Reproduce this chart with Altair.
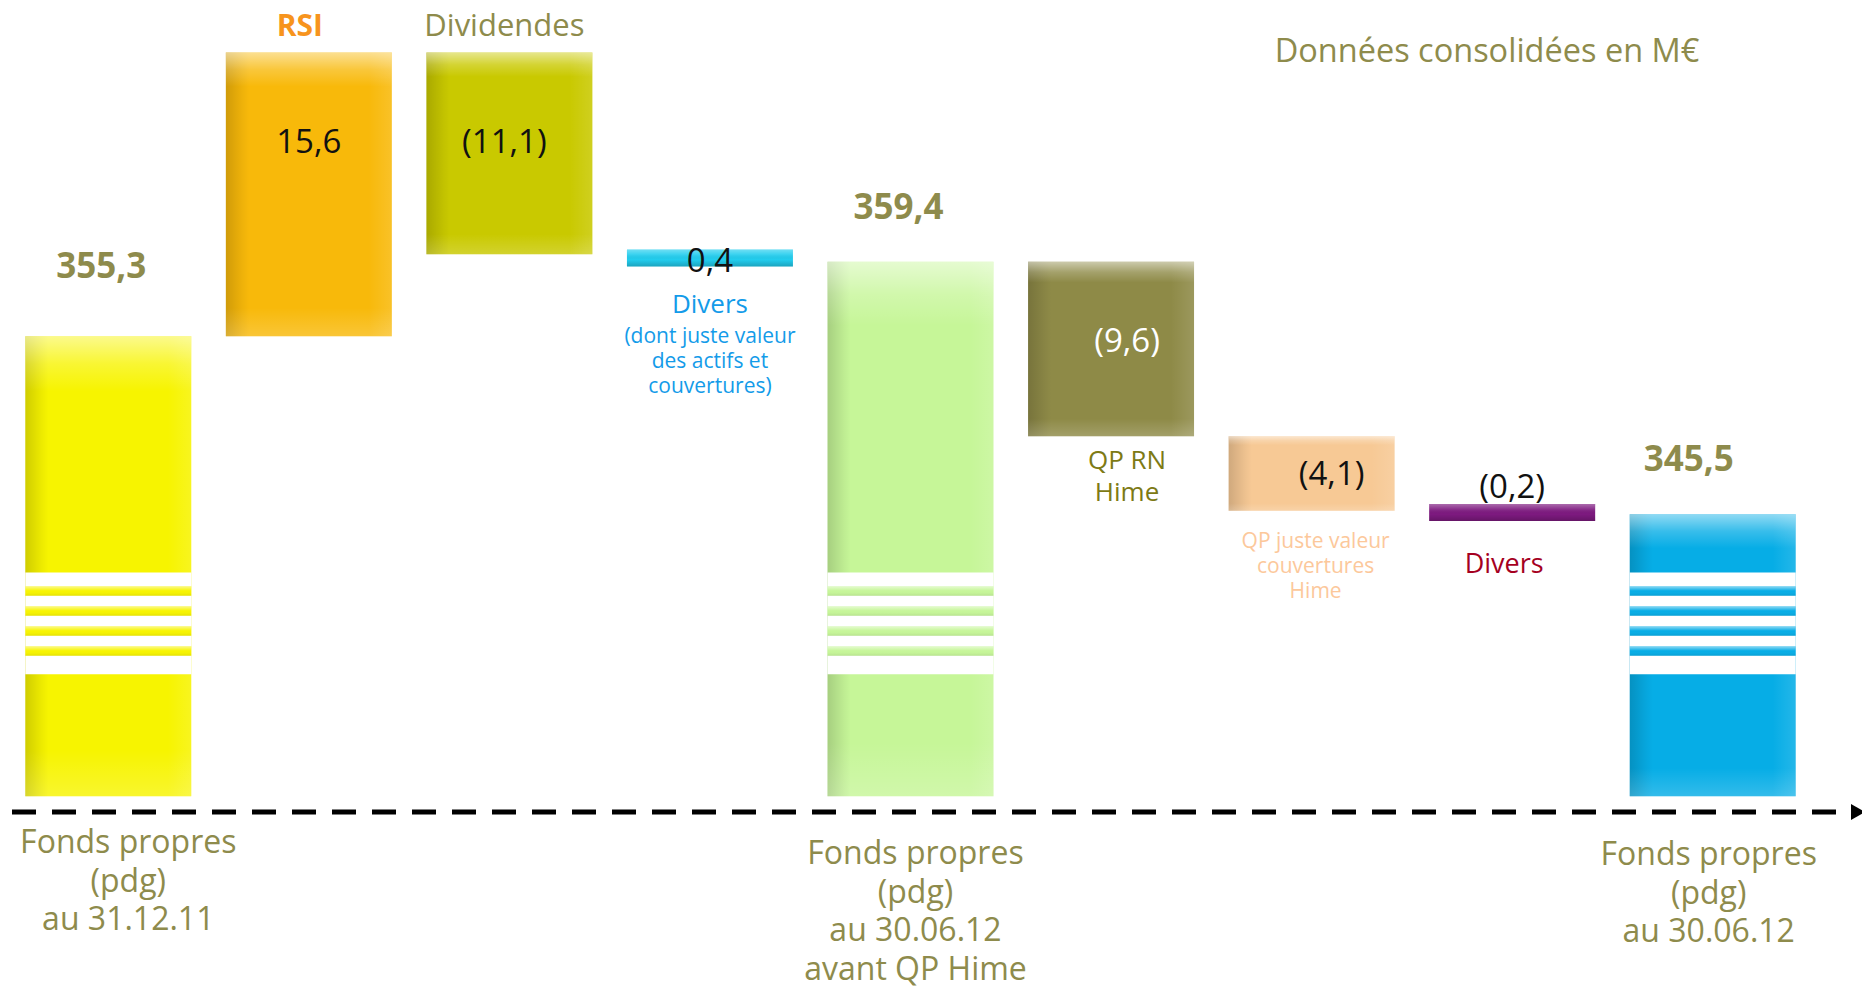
import altair as alt
import pandas as pd

# ---------------- data ----------------
categories = ["fp_2011", "rsi", "dividendes", "divers_1", "fp_avant",
              "qp_rn", "qp_jv", "divers_2", "fp_2012"]
kinds = ["total", "delta", "delta", "delta", "total", "delta", "delta", "delta", "total"]
amounts = [355.3, 15.6, -11.1, -0.4, 359.4, -9.6, -4.1, -0.2, 345.5]
value_labels = ["355,3", "15,6", "(11,1)", "0,4", "359,4", "(9,6)", "(4,1)", "(0,2)", "345,5"]
bottom_labels = ["Fonds propres\n(pdg)\nau 31.12.11", "", "", "",
                 "Fonds propres\n(pdg)\nau 30.06.12\navant QP Hime", "", "", "",
                 "Fonds propres\n(pdg)\nau 30.06.12"]
names = ["", "RSI", "Dividendes", "Divers", "", "QP RN\nHime",
         "QP juste valeur\ncouvertures\nHime", "Divers", ""]
divers_note = "(dont juste valeur\ndes actifs et\ncouvertures)"
title_text = "Données consolidées en M€"

AXIS_BASE = 330.0          # broken axis: totals start here
BREAK_LO, BREAK_HI = 336.7, 342.3

# ---------------- style ----------------
bar_colors = ["#F7F400", "#F8B90A", "#C9C900", "#22CDEE", "#C6F698",
              "#8E8A47", "#F7C995", "#7E1A80", "#06ADE6"]
OLIVE = "#8E8B4C"
FONT = "Open Sans"

# waterfall geometry computed from values
rows = []
cum = None
for c, k, a, vl, bl, nm in zip(categories, kinds, amounts, value_labels, bottom_labels, names):
    if k == "total":
        start, end = AXIS_BASE, a
        cum = a
    else:
        start, end = cum, cum + a
        cum = end
    rows.append(dict(cat=c, kind=k, amount=a, start=start, end=end,
                     top=max(start, end), bottom=min(start, end),
                     mid=(start + end) / 2, vlabel=vl, blabel=bl, name=nm,
                     small=(k == "delta" and abs(a) < 1)))
df = pd.DataFrame(rows)

stripe_rows = []
for r in rows:
    if r["kind"] == "total":
        for k in range(4):
            t = BREAK_HI - 0.75 - 1.1 * k
            stripe_rows.append(dict(cat=r["cat"], s_top=t, s_bot=t - 0.52))
stripes = pd.DataFrame(stripe_rows)

xscale = alt.Scale(domain=categories, range=[0, 1805], paddingInner=0.1725, paddingOuter=0.08625)
yscale = alt.Scale(domain=[319.56, 373.35], zero=False, nice=False)
cscale = alt.Scale(domain=categories, range=bar_colors)


def X():
    return alt.X("cat:N", scale=xscale, axis=None)


def Y(f):
    return alt.Y(f"{f}:Q", scale=yscale, axis=None)


base = alt.Chart(df)

big = base.transform_filter("!datum.small")
bars = big.mark_bar(cornerRadius=0).encode(
    x=X(), y=Y("bottom"), y2="top:Q",
    color=alt.Color("cat:N", scale=cscale, legend=None))

shade_h = big.mark_bar(fill=alt.LinearGradient(
    gradient="linear", x1=0, x2=1, y1=0, y2=0,
    stops=[alt.GradientStop(color="rgba(0,0,0,0.16)", offset=0),
           alt.GradientStop(color="rgba(0,0,0,0.04)", offset=0.1),
           alt.GradientStop(color="rgba(0,0,0,0.0)", offset=0.14),
           alt.GradientStop(color="rgba(255,255,255,0.0)", offset=0.86),
           alt.GradientStop(color="rgba(255,255,255,0.12)", offset=1)])).encode(
    x=X(), y=Y("bottom"), y2="top:Q")

shade_v = big.mark_bar(fill=alt.LinearGradient(
    gradient="linear", x1=0, x2=0, y1=0, y2=1,
    stops=[alt.GradientStop(color="rgba(255,255,255,0.55)", offset=0),
           alt.GradientStop(color="rgba(255,255,255,0.2)", offset=0.06),
           alt.GradientStop(color="rgba(255,255,255,0.0)", offset=0.12),
           alt.GradientStop(color="rgba(255,255,255,0.0)", offset=0.9),
           alt.GradientStop(color="rgba(255,255,255,0.18)", offset=1)])).encode(
    x=X(), y=Y("bottom"), y2="top:Q")

small = base.transform_filter("datum.small").mark_tick(
    size=166, thickness=17, opacity=1).encode(
    x=X(), y=Y("mid"), color=alt.Color("cat:N", scale=cscale, legend=None))
small_shade = base.transform_filter("datum.small").mark_tick(
    size=166, thickness=17, opacity=1, fill=alt.LinearGradient(
        gradient="linear", x1=0, x2=0, y1=0, y2=1,
        stops=[alt.GradientStop(color="rgba(255,255,255,0.35)", offset=0),
               alt.GradientStop(color="rgba(255,255,255,0.1)", offset=0.3),
               alt.GradientStop(color="rgba(0,0,0,0.0)", offset=0.6),
               alt.GradientStop(color="rgba(0,0,0,0.2)", offset=1)])).encode(
    x=X(), y=Y("mid"))

breaks = base.transform_filter("datum.kind == 'total'").transform_calculate(
    b_lo=str(BREAK_LO), b_hi=str(BREAK_HI)).mark_bar(color="white").encode(
    x=X(), y=Y("b_lo"), y2="b_hi:Q")

stripe_marks = alt.Chart(stripes).mark_bar().encode(
    x=X(), y=Y("s_bot"), y2="s_top:Q",
    color=alt.Color("cat:N", scale=cscale, legend=None))
stripe_shade = alt.Chart(stripes).mark_bar(fill=alt.LinearGradient(
    gradient="linear", x1=0, x2=0, y1=0, y2=1,
    stops=[alt.GradientStop(color="rgba(255,255,255,0.55)", offset=0),
           alt.GradientStop(color="rgba(255,255,255,0.0)", offset=0.5),
           alt.GradientStop(color="rgba(0,0,0,0.08)", offset=1)])).encode(
    x=X(), y=Y("s_bot"), y2="s_top:Q")


def label(cat, anchor, field, dy, size, color, weight="normal", dx=0,
          baseline="middle", line_height=None, text_value=None):
    kw = dict(font=FONT, fontSize=size, color=color, fontWeight=weight, dy=dy, dx=dx,
              baseline=baseline, align="center")
    if line_height:
        kw["lineHeight"] = line_height
        kw["lineBreak"] = "\n"
    ch = base.transform_filter(alt.datum.cat == cat)
    if text_value is not None:
        ch = ch.transform_calculate(tv="'" + text_value.replace("\n", "\\n") + "'")
        txt = alt.Text("tv:N")
    else:
        txt = alt.Text(f"{field}:N")
    return ch.mark_text(**kw).encode(x=X(), y=Y(anchor), text=txt)


texts = [
    label("fp_2011", "end", "vlabel", -69, 35, OLIVE, "bold", dx=-7),
    label("fp_avant", "end", "vlabel", -54, 35, OLIVE, "bold", dx=-12),
    label("fp_2012", "end", "vlabel", -54, 35, OLIVE, "bold", dx=-24),
    label("rsi", "top", "name", -26, 30, "#F7941D", "bold", dx=-9),
    label("dividendes", "top", "name", -26, 31, OLIVE, dx=-5),
    label("rsi", "top", "vlabel", 90, 33, "#111111"),
    label("dividendes", "top", "vlabel", 90, 33, "#111111", dx=-5),
    label("divers_1", "mid", "vlabel", 4, 33, "#111111"),
    label("divers_1", "mid", "name", 47, 26, "#139BE9"),
    label("divers_1", "mid", None, 68, 21, "#139BE9", baseline="top",
          line_height=25, text_value=divers_note),
    label("qp_rn", "mid", "vlabel", -7, 33, "#FFFFFF", dx=16),
    label("qp_rn", "bottom", "name", 12, 26, "#7D7A15", baseline="top",
          line_height=32, dx=16),
    label("qp_jv", "mid", "vlabel", 2, 33, "#111111", dx=20),
    label("qp_jv", "bottom", "name", 20, 21, "#FCC89B", baseline="top",
          line_height=25, dx=4),
    label("divers_2", "mid", "vlabel", -25, 33, "#111111"),
    label("divers_2", "mid", "name", 52, 27, "#A5001F", dx=-8),
    label("fp_2011", "start", "blabel", 32, 32, OLIVE, baseline="top",
          line_height=38.5, dx=20),
    label("fp_avant", "start", "blabel", 43, 32, OLIVE, baseline="top",
          line_height=38.5, dx=5),
    label("fp_2012", "start", "blabel", 44, 32, OLIVE, baseline="top",
          line_height=38.5, dx=-4),
]

title_mark = alt.Chart(pd.DataFrame({"t": [title_text]})).mark_text(
    font=FONT, fontSize=32.5, color=OLIVE, align="center", baseline="middle").encode(
    x=alt.value(1479), y=alt.value(44), text="t:N")

axis_rule = alt.Chart(pd.DataFrame({"a": [0]})).mark_rule(
    color="black", strokeWidth=5, strokeDash=[24, 16]).encode(
    x=alt.value(4), x2=alt.value(1842), y=alt.value(804))
arrow = alt.Chart(pd.DataFrame({"a": [0]})).mark_point(
    shape="triangle-right", filled=True, color="black", size=260, opacity=1).encode(
    x=alt.value(1850), y=alt.value(804))

chart = alt.layer(
    bars, shade_h, shade_v, small, small_shade, breaks, stripe_marks, stripe_shade,
    *texts, title_mark, axis_rule, arrow
).properties(
    width=1854, height=978,
    background="white",
    autosize=alt.AutoSizeParams(type="none"),
    padding={"left": 0, "top": 0, "right": 0, "bottom": 0},
).configure_view(stroke=None, strokeWidth=0)

chart.save("out.html", embed_options={"renderer": "svg", "actions": False})
